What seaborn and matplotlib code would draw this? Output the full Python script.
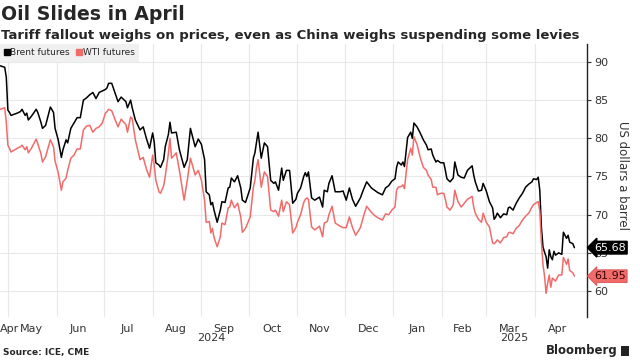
import pandas as pd
import seaborn as sns
import matplotlib.pyplot as plt
import matplotlib.transforms as mtransforms
from matplotlib.lines import Line2D
from matplotlib.patches import Rectangle

# Daily-ish closes (US$ a barrel)
dates = (
    ["2024-04-26", "2024-04-29", "2024-04-30", "2024-05-01", "2024-05-02", "2024-05-03", "2024-05-07",
     "2024-05-09", "2024-05-10", "2024-05-12", "2024-05-13", "2024-05-14", "2024-05-16", "2024-05-19",
     "2024-05-20", "2024-05-22", "2024-05-23", "2024-05-25", "2024-05-28", "2024-05-30", "2024-05-31"]
    + ["2024-06-02", "2024-06-04", "2024-06-05", "2024-06-07", "2024-06-08", "2024-06-10", "2024-06-12",
       "2024-06-14", "2024-06-16", "2024-06-18", "2024-06-20", "2024-06-22", "2024-06-24", "2024-06-26",
       "2024-06-28", "2024-06-30"]
    + ["2024-07-02", "2024-07-03", "2024-07-04", "2024-07-06", "2024-07-08", "2024-07-10", "2024-07-12",
       "2024-07-15", "2024-07-16", "2024-07-18", "2024-07-19", "2024-07-21", "2024-07-24", "2024-07-26",
       "2024-07-28", "2024-07-30"]
    + ["2024-08-01", "2024-08-02", "2024-08-03", "2024-08-05", "2024-08-06", "2024-08-08", "2024-08-09",
       "2024-08-11", "2024-08-12", "2024-08-13", "2024-08-16", "2024-08-18", "2024-08-21", "2024-08-23",
       "2024-08-25", "2024-08-28", "2024-08-30"]
    + ["2024-09-01", "2024-09-03", "2024-09-04", "2024-09-06", "2024-09-07", "2024-09-08", "2024-09-09",
       "2024-09-11", "2024-09-13", "2024-09-14", "2024-09-16", "2024-09-18", "2024-09-19", "2024-09-20",
       "2024-09-22", "2024-09-24", "2024-09-26", "2024-09-27", "2024-09-29"]
    + ["2024-10-02", "2024-10-04", "2024-10-05", "2024-10-06", "2024-10-07", "2024-10-09", "2024-10-11",
       "2024-10-13", "2024-10-15", "2024-10-17", "2024-10-18", "2024-10-20", "2024-10-22", "2024-10-23",
       "2024-10-25", "2024-10-27", "2024-10-29", "2024-10-31"]
    + ["2024-11-01", "2024-11-03", "2024-11-05", "2024-11-06", "2024-11-07", "2024-11-08", "2024-11-10",
       "2024-11-12", "2024-11-15", "2024-11-17", "2024-11-18", "2024-11-20", "2024-11-21", "2024-11-23",
       "2024-11-25", "2024-11-28", "2024-11-30"]
    + ["2024-12-02", "2024-12-04", "2024-12-06", "2024-12-08", "2024-12-11", "2024-12-13", "2024-12-15",
       "2024-12-18", "2024-12-20", "2024-12-22", "2024-12-25", "2024-12-27", "2024-12-29", "2024-12-31"]
    + ["2025-01-02", "2025-01-03", "2025-01-04", "2025-01-06", "2025-01-07", "2025-01-08", "2025-01-10",
       "2025-01-12", "2025-01-13", "2025-01-14", "2025-01-16", "2025-01-18", "2025-01-20", "2025-01-22",
       "2025-01-23", "2025-01-25", "2025-01-26", "2025-01-28", "2025-01-29", "2025-01-31"]
    + ["2025-02-02", "2025-02-03", "2025-02-04", "2025-02-06", "2025-02-08", "2025-02-09", "2025-02-11",
       "2025-02-13", "2025-02-15", "2025-02-17", "2025-02-20", "2025-02-21", "2025-02-22", "2025-02-24",
       "2025-02-26", "2025-02-27"]
    + ["2025-03-01", "2025-03-03", "2025-03-05", "2025-03-06", "2025-03-07", "2025-03-08", "2025-03-10",
       "2025-03-12", "2025-03-14", "2025-03-15", "2025-03-16", "2025-03-18", "2025-03-20", "2025-03-22",
       "2025-03-24", "2025-03-26", "2025-03-28", "2025-03-30", "2025-03-31"]
    + ["2025-04-02", "2025-04-03", "2025-04-04", "2025-04-05", "2025-04-06", "2025-04-07", "2025-04-08",
       "2025-04-09", "2025-04-10", "2025-04-11", "2025-04-12", "2025-04-13", "2025-04-14", "2025-04-16",
       "2025-04-18", "2025-04-19", "2025-04-21", "2025-04-22", "2025-04-23", "2025-04-25", "2025-04-26"]
)

brent = (
    [89.5, 89.3, 88.0, 83.7, 83.4, 83.0, 83.3, 83.5, 83.8, 83.0, 83.3, 82.4, 82.9, 83.8, 83.4, 82.1, 81.3,
     81.7, 84.1, 83.4, 81.3]
    + [79.8, 77.5, 78.5, 79.8, 79.4, 81.3, 82.0, 82.7, 82.7, 85.0, 85.3, 85.7, 86.0, 85.2, 86.0, 86.2]
    + [86.4, 86.6, 87.2, 87.2, 86.0, 84.8, 85.4, 84.8, 84.0, 85.0, 84.0, 82.4, 81.1, 81.5, 80.0, 78.7]
    + [80.7, 79.5, 76.8, 76.5, 76.2, 77.2, 78.9, 80.5, 82.1, 80.7, 80.8, 78.5, 76.2, 77.2, 81.3, 78.9, 79.9]
    + [79.2, 77.2, 73.0, 72.6, 71.3, 71.6, 70.6, 69.0, 70.6, 71.7, 71.6, 73.5, 73.6, 74.8, 74.3, 75.1, 73.5,
       71.9, 71.6]
    + [73.5, 77.4, 78.1, 79.5, 80.8, 77.4, 79.4, 78.9, 74.5, 74.1, 74.3, 73.2, 76.1, 74.5, 75.8, 75.8, 71.5,
       72.0]
    + [72.8, 73.5, 75.0, 75.5, 75.0, 75.6, 72.2, 71.9, 72.3, 71.0, 73.2, 73.0, 74.1, 75.1, 73.0, 73.0, 73.1]
    + [71.9, 73.5, 72.0, 71.1, 72.2, 73.3, 74.3, 73.5, 73.2, 72.9, 72.6, 73.5, 73.8, 74.4]
    + [74.7, 76.2, 76.9, 76.5, 76.9, 76.3, 80.1, 80.8, 80.0, 82.0, 81.5, 80.7, 79.8, 79.1, 78.5, 78.6, 77.8,
       76.9, 77.1, 76.8]
    + [76.8, 75.8, 74.7, 74.3, 74.8, 76.9, 75.2, 74.9, 74.8, 75.8, 76.4, 75.2, 74.3, 73.1, 73.2, 74.1]
    + [73.1, 71.7, 70.9, 69.4, 69.7, 70.2, 69.6, 70.1, 70.0, 70.9, 71.0, 70.6, 71.5, 72.2, 72.8, 73.6, 74.0,
       74.3, 74.7]
    + [74.6, 74.9, 73.2, 68.4, 65.8, 65.1, 64.5, 63.0, 65.4, 64.5, 64.1, 65.2, 64.7, 65.0, 64.8, 67.7, 66.9,
       67.3, 66.4, 66.2, 65.68]
)

wti = (
    [83.8, 84.0, 82.1, 79.1, 78.7, 78.2, 78.7, 78.9, 79.1, 78.5, 78.9, 78.1, 78.7, 79.9, 79.3, 78.0, 76.9,
     77.6, 79.8, 78.9, 77.0]
    + [75.5, 73.2, 74.3, 74.8, 75.8, 77.4, 77.8, 78.6, 78.6, 81.1, 81.6, 81.7, 80.8, 81.3, 81.5, 82.0]
    + [83.3, 83.5, 83.8, 83.6, 82.5, 81.5, 82.5, 81.8, 80.8, 82.8, 82.6, 79.8, 77.2, 77.5, 76.0, 74.9]
    + [77.8, 76.5, 74.5, 73.0, 72.8, 73.8, 75.0, 78.0, 80.0, 77.4, 78.1, 75.8, 71.9, 74.5, 77.4, 75.2, 75.8]
    + [74.5, 71.9, 69.0, 69.1, 67.6, 68.2, 67.0, 65.8, 67.1, 68.9, 68.7, 70.9, 71.0, 71.9, 70.9, 71.5, 69.7,
       67.7, 68.2]
    + [69.7, 73.6, 74.5, 76.2, 77.2, 73.6, 75.6, 75.0, 70.6, 70.4, 70.6, 69.8, 71.9, 70.4, 71.7, 71.3, 67.6,
       68.3]
    + [69.0, 70.0, 71.6, 72.0, 72.2, 72.0, 68.4, 68.0, 68.5, 67.1, 68.9, 69.1, 70.0, 71.1, 68.9, 68.5, 68.3]
    + [68.3, 69.7, 68.3, 67.3, 68.3, 69.8, 71.1, 70.3, 69.9, 69.6, 69.3, 70.1, 70.0, 70.6]
    + [71.0, 73.2, 73.6, 73.7, 73.9, 73.4, 77.2, 78.7, 77.8, 80.2, 79.2, 77.5, 76.2, 75.8, 75.2, 74.6, 73.6,
       73.6, 72.6, 72.8]
    + [72.8, 72.0, 71.0, 70.6, 71.3, 73.2, 71.7, 71.0, 71.5, 72.0, 72.4, 71.0, 70.2, 69.4, 69.0, 70.2]
    + [69.0, 68.4, 66.3, 66.2, 66.4, 66.7, 66.3, 67.0, 67.1, 67.6, 67.7, 67.5, 68.2, 68.6, 69.3, 69.8, 70.2,
       71.0, 71.3]
    + [71.6, 71.7, 70.5, 66.5, 63.5, 62.0, 59.7, 61.0, 62.1, 60.5, 61.7, 61.5, 61.3, 62.1, 62.1, 64.4, 63.5,
       64.2, 62.7, 62.4, 61.95]
)

month_label_dates = ["2024-04-26", "2024-05-16", "2024-06-15", "2024-07-16", "2024-08-16", "2024-09-15",
                     "2024-10-16", "2024-11-15", "2024-12-16", "2025-01-16", "2025-02-14", "2025-03-16",
                     "2025-04-15"]
month_labels = ["Apr", "May", "Jun", "Jul", "Aug", "Sep", "Oct", "Nov", "Dec", "Jan", "Feb", "Mar", "Apr"]
year_labels = ["2024", "2025"]
year_label_dates = ["2024-09-07", "2025-03-19"]

brent_color = "#000000"
wti_color = "#f26b6b"

df = pd.DataFrame({"date": pd.to_datetime(dates), "Brent futures": brent, "WTI futures": wti})
long_df = df.melt(id_vars="date", var_name="series", value_name="price")

sns.set_style("white")
plt.rcParams['font.family'] = ['DejaVu Sans']

fig = plt.figure(figsize=(6.4, 3.6), dpi=100)
ax = fig.add_axes([0.0, 0.119, 587 / 640, 0.759])

sns.lineplot(data=long_df, x="date", y="price", hue="series",
             palette={"Brent futures": brent_color, "WTI futures": wti_color},
             linewidth=1.1, legend=False, ax=ax)

ax.set_xlim(pd.Timestamp("2024-04-26"), pd.Timestamp("2025-05-04"))
ax.set_ylim(56.58, 92.36)

# y axis on the right
ax.yaxis.tick_right()
ax.set_yticks([60, 65, 70, 75, 80, 85, 90])
ax.tick_params(axis="y", direction="out", length=3, width=0.8, labelsize=8, pad=2,
               colors="#333333")
ax.set_ylabel("US dollars a barrel", rotation=270, fontsize=8.5, color="#333333", va="center")
ax.yaxis.set_label_position("right")
ax.yaxis.set_label_coords(629 / 587, 0.52)

# month gridlines on month starts, labels mid-month
month_starts = pd.date_range("2024-05-01", "2025-04-01", freq="MS")
ax.set_xticks(month_starts)
ax.set_xticklabels([])
ax.set_xticks(pd.to_datetime(month_label_dates), minor=True)
ax.set_xticklabels(month_labels, minor=True)
ax.tick_params(axis="x", which="both", length=0, labelsize=8, pad=5, colors="#333333")
ax.get_xticklabels(minor=True)[0].set_horizontalalignment("left")
ax.grid(True, which="major", color="#e8e8e8", linewidth=0.8)
ax.set_xlabel("")

for lbl, d in zip(year_labels, year_label_dates):
    ax.text(pd.Timestamp(d), -0.078, lbl, transform=ax.get_xaxis_transform(),
            ha="center", va="center", fontsize=8, color="#333333")

for side in ["top", "left", "bottom"]:
    ax.spines[side].set_visible(False)
ax.spines["right"].set_color("#222222")
ax.spines["right"].set_linewidth(1.0)

# legend box
handles = [Line2D([], [], marker="s", linestyle="none", markersize=4.5, color=brent_color),
           Line2D([], [], marker="s", linestyle="none", markersize=4.5, color=wti_color)]
leg = ax.legend(handles, ["Brent futures", "WTI futures"], loc="upper left", bbox_to_anchor=(0, 1),
                ncol=2, fontsize=6.5, frameon=True, fancybox=False,
                borderaxespad=0, handlelength=0.5, handletextpad=0.15, columnspacing=0.8,
                borderpad=0.5)
leg.get_frame().set_facecolor("#f0f0f0")
leg.get_frame().set_edgecolor("none")
leg.get_frame().set_alpha(1)

# last-value tags
trans = mtransforms.blended_transform_factory(ax.transAxes, ax.transData)
ax.text(1.012, brent[-1], f"{brent[-1]:.2f}", transform=trans, ha="left", va="center", fontsize=8,
        color="white", bbox=dict(boxstyle="larrow,pad=0.12", fc=brent_color, ec=brent_color))
ax.text(1.012, wti[-1], f"{wti[-1]:.2f}", transform=trans, ha="left", va="center", fontsize=8,
        color="#3a0505", bbox=dict(boxstyle="larrow,pad=0.12", fc=wti_color, ec="#d85050", lw=0.6))

fig.text(0.002, 0.945, "Oil Slides in April", fontsize=13.6, fontweight="bold", va="baseline")
fig.text(0.002, 0.893, "Tariff fallout weighs on prices, even as China weighs suspending some levies",
         fontsize=9.5, fontweight="bold", va="baseline")
fig.text(0.005, 0.022, "Source: ICE, CME", fontsize=6.5, fontweight="bold", va="center")
fig.text(0.965, 0.026, "Bloomberg", fontsize=8.5, fontweight="bold", va="center", ha="right")
fig.patches.append(Rectangle((0.970, 0.012), 0.013, 0.028, transform=fig.transFigure,
                             fc="#222222", ec="none"))

fig.savefig("out.png", dpi=100)
